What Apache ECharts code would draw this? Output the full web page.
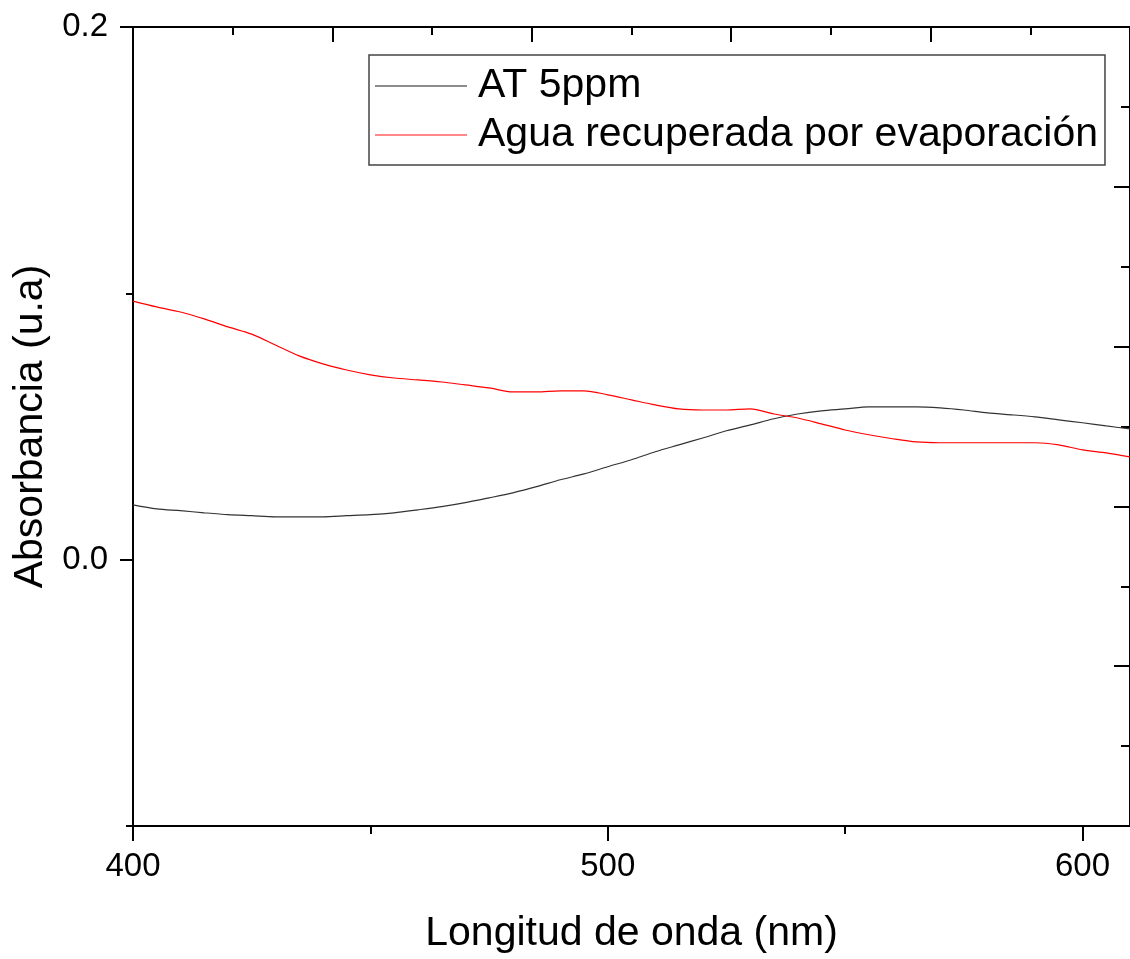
<!DOCTYPE html>
<html>
<head>
<meta charset="utf-8">
<script src="https://cdn.jsdelivr.net/npm/echarts@6/dist/echarts.min.js"></script>
<style>
html,body{margin:0;padding:0;background:#fff;}
#chart{width:1130px;height:959px;}
</style>
</head>
<body>
<div id="chart"></div>
<script>
// Wavelength (nm)
const wavelengths = [400,405,410,415,420,425,430,435,440,445,450,455,460,465,470,475,480,485,490,495,500,505,510,515,520,525,530,535,540,545,550,555,560,565,570,575,580,585,590,595,600,605,610];
// AT 5ppm absorbance
const at5ppm = [0.0206,0.0191,0.0184,0.0176,0.0169,0.0165,0.0161,0.0161,0.0161,0.0165,0.0169,0.0176,0.0187,0.0199,0.0214,0.0232,0.0251,0.0274,0.0300,0.0322,0.0349,0.0375,0.0405,0.0431,0.0457,0.0484,0.0506,0.0529,0.0547,0.0559,0.0566,0.0574,0.0574,0.0574,0.0570,0.0562,0.0551,0.0544,0.0536,0.0525,0.0514,0.0502,0.0491];
// Agua recuperada por evaporación absorbance
const aguaRecuperada = [0.0971,0.0949,0.0930,0.0904,0.0874,0.0847,0.0806,0.0765,0.0735,0.0712,0.0694,0.0682,0.0675,0.0667,0.0656,0.0645,0.0630,0.0630,0.0634,0.0634,0.0619,0.0600,0.0581,0.0566,0.0562,0.0562,0.0566,0.0547,0.0532,0.0510,0.0487,0.0469,0.0454,0.0442,0.0439,0.0439,0.0439,0.0439,0.0439,0.0431,0.0412,0.0401,0.0386];
const seriesNames = ['AT 5ppm', 'Agua recuperada por evaporación'];
const xMajorTicks = [400, 500, 600];
const xMinorTicks = [450, 550];
const yMajorTicks = [0.0, 0.2];
const yMinorTicks = [-0.1, 0.1];

const FONT = 'Liberation Sans, Arial, sans-serif';
const toPairs = (xs, ys) => xs.map((x, i) => [x, ys[i]]);

const chart = echarts.init(document.getElementById('chart'), null, {renderer: 'canvas'});
const axisLine = {show: true, onZero: false, lineStyle: {color: '#000', width: 2}};
const noLine = {show: false, onZero: false};
chart.setOption({
  animation: false,
  backgroundColor: '#fff',
  grid: {left: 133, top: 27, width: 1000, height: 800, containLabel: false},
  legend: {
    orient: 'vertical',
    left: 369, top: 55,
    padding: [9, 7, 8, 6],
    itemGap: 5,
    itemWidth: 92,
    itemHeight: 1.5,
    icon: 'rect',
    borderColor: '#444',
    borderWidth: 1.5,
    textStyle: {fontFamily: FONT, fontSize: 41, color: '#000', lineHeight: 44, padding: [0, 0, 0, 6]},
    data: seriesNames
  },
  xAxis: [
    {
      type: 'value', position: 'bottom', min: 400, max: 610, interval: 100,
      axisLine: axisLine,
      axisTick: {show: true, inside: false, length: 15, lineStyle: {color: '#000', width: 2}, customValues: xMajorTicks},
      axisLabel: {show: true, fontFamily: FONT, fontSize: 33, color: '#000', margin: 24, customValues: xMajorTicks},
      splitLine: {show: false},
      name: 'Longitud de onda (nm)', nameLocation: 'middle', nameGap: 87,
      nameTextStyle: {fontFamily: FONT, fontSize: 41, color: '#000'}
    },
    {
      type: 'value', position: 'bottom', min: 400, max: 610, interval: 100,
      axisLine: noLine,
      axisTick: {show: true, inside: false, length: 8, lineStyle: {color: '#000', width: 2}, customValues: xMinorTicks},
      axisLabel: {show: false},
      splitLine: {show: false}
    },
    {
      type: 'value', position: 'top', min: 0, max: 5, interval: 1,
      axisLine: axisLine,
      axisTick: {show: true, inside: true, length: 15, lineStyle: {color: '#000', width: 2}},
      minorTick: {show: true, splitNumber: 2, length: 8, lineStyle: {color: '#000', width: 2}},
      axisLabel: {show: false},
      splitLine: {show: false}
    }
  ],
  yAxis: [
    {
      type: 'value', position: 'left', min: -0.1, max: 0.2,
      axisLine: axisLine,
      axisTick: {show: true, inside: false, length: 13, lineStyle: {color: '#000', width: 2}, customValues: yMajorTicks},
      axisLabel: {show: true, fontFamily: FONT, fontSize: 33, color: '#000', margin: 25, customValues: yMajorTicks, formatter: v => v.toFixed(1)},
      splitLine: {show: false},
      name: 'Absorbancia (u.a)', nameLocation: 'middle', nameGap: 71, nameRotate: 90,
      nameTextStyle: {fontFamily: FONT, fontSize: 41, color: '#000'}
    },
    {
      type: 'value', position: 'left', min: -0.1, max: 0.2,
      axisLine: noLine,
      axisTick: {show: true, inside: false, length: 7, lineStyle: {color: '#000', width: 2}, customValues: yMinorTicks},
      axisLabel: {show: false},
      splitLine: {show: false}
    },
    {
      type: 'value', position: 'right', min: 0, max: 5, interval: 1,
      axisLine: axisLine,
      axisTick: {show: true, inside: true, length: 16, lineStyle: {color: '#000', width: 2}},
      minorTick: {show: true, splitNumber: 2, length: 9, lineStyle: {color: '#000', width: 2}},
      axisLabel: {show: false},
      splitLine: {show: false}
    }
  ],
  series: [
    {
      name: seriesNames[0], type: 'line', xAxisIndex: 0, yAxisIndex: 0,
      symbol: 'none', smooth: 0.3,
      lineStyle: {color: '#333', width: 1.2},
      itemStyle: {color: '#666'},
      data: toPairs(wavelengths, at5ppm)
    },
    {
      name: seriesNames[1], type: 'line', xAxisIndex: 0, yAxisIndex: 0,
      symbol: 'none', smooth: 0.3,
      lineStyle: {color: '#ff0000', width: 1.2},
      itemStyle: {color: '#ff6060'},
      data: toPairs(wavelengths, aguaRecuperada)
    }
  ]
});
</script>
</body>
</html>
